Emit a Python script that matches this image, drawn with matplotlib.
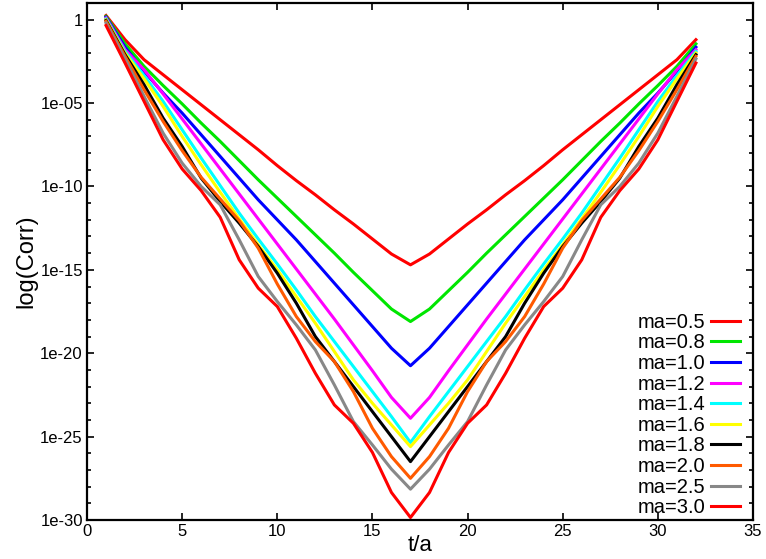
import numpy as np
import matplotlib
import matplotlib.pyplot as plt
from matplotlib.ticker import FixedLocator, NullFormatter

matplotlib.use("Agg")

plt.rcParams["font.family"] = ["Liberation Sans", "DejaVu Sans"]

# time slices on the lattice
t = np.arange(1, 33)

# log10 of the correlator
log_c = {
    "ma=0.5": [0.25, -1.2, -2.4, -3.3, -4.2, -5.1, -6.0, -6.9, -7.8, -8.75, -9.65, -10.5, -11.4, -12.25,
               -13.15, -14.05, -14.7, -14.05, -13.15, -12.25, -11.4, -10.5, -9.65, -8.75, -7.8, -6.9,
               -6.0, -5.1, -4.2, -3.3, -2.4, -1.2],
    "ma=0.8": [0.2, -1.45, -2.8, -3.95, -5.05, -6.2, -7.3, -8.45, -9.6, -10.7, -11.8, -12.9, -14.0, -15.15,
               -16.25, -17.35, -18.1, -17.35, -16.25, -15.15, -14.0, -12.9, -11.8, -10.7, -9.6, -8.45,
               -7.3, -6.2, -5.05, -3.95, -2.8, -1.45],
    "ma=1.0": [0.15, -1.65, -3.1, -4.4, -5.6, -6.9, -8.2, -9.5, -10.8, -12.0, -13.2, -14.5, -15.8, -17.1,
               -18.4, -19.7, -20.75, -19.7, -18.4, -17.1, -15.8, -14.5, -13.2, -12.0, -10.8, -9.5,
               -8.2, -6.9, -5.6, -4.4, -3.1, -1.65],
    "ma=1.2": [0.1, -1.8, -3.0, -4.45, -5.95, -7.45, -8.95, -10.45, -11.95, -13.45, -14.95, -16.45, -17.95,
               -19.5, -21.05, -22.65, -23.9, -22.65, -21.05, -19.5, -17.95, -16.45, -14.95, -13.45,
               -11.95, -10.45, -8.95, -7.45, -5.95, -4.45, -3.0, -1.8],
    "ma=1.4": [0.05, -1.9, -3.35, -4.9, -6.6, -8.3, -9.95, -11.6, -13.15, -14.65, -16.2, -17.8, -19.3, -20.8,
               -22.3, -23.8, -25.35, -23.8, -22.3, -20.8, -19.3, -17.8, -16.2, -14.65, -13.15, -11.6,
               -9.95, -8.3, -6.6, -4.9, -3.35, -1.9],
    "ma=1.6": [0.0, -2.0, -3.55, -5.2, -7.0, -8.7, -10.35, -11.95, -13.5, -15.0, -16.6, -18.2, -19.9, -21.6,
               -23.0, -24.3, -25.6, -24.3, -23.0, -21.6, -19.9, -18.2, -16.6, -15.0, -13.5, -11.95,
               -10.35, -8.7, -7.0, -5.2, -3.55, -2.0],
    "ma=1.8": [-0.05, -2.1, -3.9, -5.9, -7.6, -9.5, -10.9, -12.2, -13.6, -15.2, -17.0, -19.0, -20.5, -22.0,
               -23.5, -25.0, -26.5, -25.0, -23.5, -22.0, -20.5, -19.0, -17.0, -15.2, -13.6, -12.2,
               -10.9, -9.5, -7.6, -5.9, -3.9, -2.1],
    "ma=2.0": [-0.1, -2.2, -4.2, -6.1, -7.85, -9.45, -10.75, -12.05, -13.7, -15.85, -17.8, -19.3, -20.5,
               -22.3, -24.5, -26.2, -27.5, -26.2, -24.5, -22.3, -20.5, -19.3, -17.8, -15.85, -13.7,
               -12.05, -10.75, -9.45, -7.85, -6.1, -4.2, -2.2],
    "ma=2.5": [-0.2, -2.35, -4.6, -6.8, -8.6, -10.0, -11.1, -13.2, -15.4, -16.9, -18.3, -19.8, -21.9, -24.1,
               -25.5, -26.95, -28.15, -26.95, -25.5, -24.1, -21.9, -19.8, -18.3, -16.9, -15.4, -13.2,
               -11.1, -10.0, -8.6, -6.8, -4.6, -2.35],
    "ma=3.0": [-0.35, -2.6, -4.9, -7.2, -8.95, -10.25, -11.85, -14.4, -16.1, -17.2, -19.1, -21.2, -23.1,
               -24.2, -25.95, -28.35, -29.85, -28.35, -25.95, -24.2, -23.1, -21.2, -19.1, -17.2, -16.1,
               -14.4, -11.85, -10.25, -8.95, -7.2, -4.9, -2.6],
}
line_colors = ["#ff0000", "#00e600", "#0000ff", "#ff00ff", "#00ffff",
               "#ffff00", "#000000", "#ff5a00", "#888888", "#ff0000"]

y_ticks = [1e-30, 1e-25, 1e-20, 1e-15, 1e-10, 1e-05, 1]
y_tick_labels = ["1e-30", "1e-25", "1e-20", "1e-15", "1e-10", "1e-05", "1"]
x_ticks = [0, 5, 10, 15, 20, 25, 30, 35]

fig = plt.figure(figsize=(7.66, 5.59), dpi=100)
ax = fig.add_axes([87 / 766, 1 - 520 / 559, 666 / 766, 517 / 559])

for (label, vals), c in zip(log_c.items(), line_colors):
    ax.semilogy(t, 10.0 ** np.array(vals), color=c, lw=2.2, label=label)

ax.set_xlim(0, 35)
ax.set_ylim(1e-30, 10)
ax.set_xticks(x_ticks)
ax.set_yticks(y_ticks)
ax.set_yticklabels(y_tick_labels)
ax.yaxis.set_minor_locator(FixedLocator([10.0 ** k for k in range(-30, 2)]))
ax.yaxis.set_minor_formatter(NullFormatter())

ax.tick_params(which="both", direction="in", top=True, right=True, labelsize=12, width=1.2, pad=3)
ax.tick_params(which="major", length=5)
ax.tick_params(which="minor", length=3)
for s in ax.spines.values():
    s.set_linewidth(1.6)

ax.set_xlabel("t/a", fontsize=16, labelpad=-3)
ax.set_ylabel("log(Corr)", fontsize=17, labelpad=2)

ax.legend(loc="lower right", bbox_to_anchor=(0.998, -0.018), frameon=False, markerfirst=False,
          fontsize=14.5, handlelength=1.4, handletextpad=0.3, labelspacing=0.08, borderaxespad=0.2)

fig.savefig("out.png", dpi=100)
